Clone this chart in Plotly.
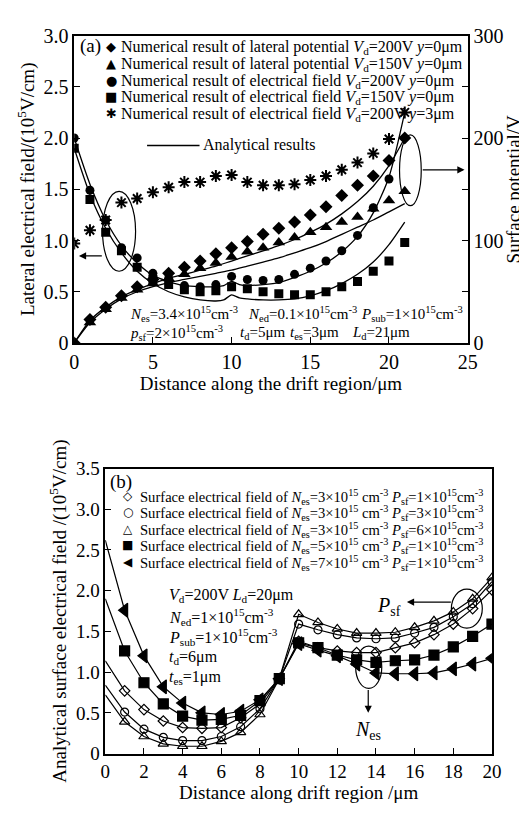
import plotly.graph_objects as go

# ---------------- Panel (a) data ----------------
xa = list(range(22))
pot200 = [0, 23, 35, 46, 55, 62, 68, 74, 80, 87, 93, 99, 106, 112, 118, 125, 133, 144, 154, 163, 178, 200]
pot150 = [0, 20, 33, 44, 52, 58, 63, 67, 73, 78, 84, 89, 93, 98, 103, 108, 113, 118, 123, 131, 139, 148]
xe = list(range(21))
e200 = [2.0, 1.49, 1.2, 0.93, 0.83, 0.68, 0.63, 0.56, 0.55, 0.57, 0.65, 0.62, 0.61, 0.62, 0.67, 0.73, 0.8, 0.9, 1.05, 1.32, 1.6]
e150 = [1.9, 1.4, 1.08, 0.9, 0.74, 0.62, 0.57, 0.52, 0.5, 0.51, 0.55, 0.53, 0.5, 0.48, 0.47, 0.47, 0.5, 0.55, 0.6, 0.7, 0.8, 0.98]
e200y3 = [0.97, 1.1, 1.2, 1.37, 1.41, 1.47, 1.52, 1.57, 1.57, 1.63, 1.64, 1.57, 1.54, 1.54, 1.55, 1.59, 1.63, 1.69, 1.76, 1.85, 1.99, 2.25]

# analytical curves
xan = [0, 1, 2, 3, 4, 5, 6, 7, 8, 9, 9.5, 10, 10.5, 11, 12, 13, 14, 15, 16, 17, 18, 19, 20, 21]
e200_an = [2.0, 1.55, 1.2, 0.95, 0.78, 0.66, 0.6, 0.56, 0.55, 0.55, 0.56, 0.6, 0.57, 0.56, 0.57, 0.59, 0.64, 0.7, 0.78, 0.89, 1.04, 1.27, 1.62, 2.25]
e150_an = [1.9, 1.45, 1.12, 0.88, 0.7, 0.58, 0.5, 0.45, 0.42, 0.41, 0.42, 0.47, 0.44, 0.43, 0.42, 0.42, 0.43, 0.46, 0.51, 0.58, 0.67, 0.79, 0.96, 1.18]
pot200_an = [0, 22, 35, 45, 52, 58, 63, 67, 71, 75, 80, 85, 90, 95, 101, 108, 116, 126, 138, 153, 173, 200]
pot150_an = [0, 20, 33, 43, 50, 55, 59, 62, 65, 68, 71, 75, 79, 83, 88, 93, 99, 106, 113, 120, 128, 136]

# ---------------- Panel (b) data ----------------
xb = list(range(21))
b_nes3_psf1 = [1.14, 0.77, 0.54, 0.40, 0.32, 0.31, 0.32, 0.44, 0.61, 0.92, 1.38, 1.30, 1.26, 1.24, 1.24, 1.30, 1.36, 1.46, 1.59, 1.78, 2.01]
b_nes3_psf3 = [0.84, 0.51, 0.30, 0.20, 0.16, 0.16, 0.21, 0.33, 0.55, 0.92, 1.59, 1.52, 1.46, 1.42, 1.41, 1.42, 1.48, 1.55, 1.68, 1.84, 2.11]
b_nes3_psf6 = [0.72, 0.39, 0.21, 0.12, 0.09, 0.09, 0.15, 0.26, 0.48, 0.92, 1.71, 1.61, 1.53, 1.48, 1.48, 1.49, 1.55, 1.63, 1.74, 1.90, 2.16]
b_nes5_psf1 = [1.90, 1.26, 0.87, 0.61, 0.46, 0.41, 0.42, 0.47, 0.65, 0.92, 1.36, 1.30, 1.21, 1.15, 1.12, 1.14, 1.15, 1.21, 1.31, 1.44, 1.59]
b_nes7_psf1 = [2.62, 1.76, 1.20, 0.82, 0.62, 0.50, 0.48, 0.52, 0.66, 0.92, 1.35, 1.27, 1.20, 1.10, 0.99, 0.98, 0.98, 0.99, 1.04, 1.10, 1.17]

# legend texts
va = "<i>V</i><sub>d</sub>"
legend_a = [
    ("◆", "Numerical result of lateral potential " + va + "=200V <i>y</i>=0μm"),
    ("▲", "Numerical result of lateral potential " + va + "=150V <i>y</i>=0μm"),
    ("●", "Numerical result of electrical field " + va + "=200V <i>y</i>=0μm"),
    ("■", "Numerical result of electrical field " + va + "=150V <i>y</i>=0μm"),
    ("✱", "Numerical result of electrical field " + va + "=200V <i>y</i>=3μm"),
]
def lab(nes, psf):
    return ("Surface electrical field of <i>N</i><sub>es</sub>=%s×10<sup>15</sup> cm<sup>-3</sup> "
            "<i>P</i><sub>sf</sub>=%s×10<sup>15</sup>cm<sup>-3</sup>" % (nes, psf))
legend_b = [("◇", lab(3, 1)), ("○", lab(3, 3)), ("△", lab(3, 6)), ("■", lab(5, 1)), ("◀", lab(7, 1))]

FONT = "Liberation Serif"
fig = go.Figure()

# ---- (a) numerical markers ----
fig.add_trace(go.Scatter(x=xa, y=pot200, mode="markers", yaxis="y2", xaxis="x", name=legend_a[0][1],
                         marker=dict(symbol="diamond", size=10, color="black"), showlegend=False))
fig.add_trace(go.Scatter(x=xa, y=pot150, mode="markers", yaxis="y2", xaxis="x", name=legend_a[1][1],
                         marker=dict(symbol="triangle-up", size=11, color="black"), showlegend=False))
fig.add_trace(go.Scatter(x=xe, y=e200, mode="markers", yaxis="y", xaxis="x", name=legend_a[2][1],
                         marker=dict(symbol="circle", size=9, color="black"), showlegend=False))
fig.add_trace(go.Scatter(x=xa, y=e150, mode="markers", yaxis="y", xaxis="x", name=legend_a[3][1],
                         marker=dict(symbol="square", size=9, color="black"), showlegend=False))
fig.add_trace(go.Scatter(x=xa, y=e200y3, mode="markers", yaxis="y", xaxis="x", name=legend_a[4][1],
                         marker=dict(symbol="asterisk-open", size=10, color="black", line=dict(width=2, color="black")),
                         showlegend=False))

# ---- (a) analytical lines ----
lstyle = dict(color="black", width=1.3, shape="spline", smoothing=0.7)
for xs, ys, ax in [(xan, e200_an, "y"), (xan, e150_an, "y"), (xa, pot200_an, "y2"), (xa, pot150_an, "y2")]:
    fig.add_trace(go.Scatter(x=xs, y=ys, mode="lines", line=lstyle, xaxis="x", yaxis=ax,
                             name="Analytical results", showlegend=False))

# ---- (b) ----
bseries = [
    (b_nes3_psf1, "diamond-open", 8),
    (b_nes3_psf3, "circle-open", 8),
    (b_nes3_psf6, "triangle-up-open", 9),
    (b_nes5_psf1, "square", 10),
    (b_nes7_psf1, "triangle-left", 12),
]
for ys, sym, sz in bseries:
    fig.add_trace(go.Scatter(x=xb, y=ys, mode="lines", xaxis="x2", yaxis="y3",
                             line=dict(color="black", width=1.2), showlegend=False))
for (ys, sym, sz), (g, nm) in zip(bseries, legend_b):
    fig.add_trace(go.Scatter(x=xb[1:], y=ys[1:], mode="markers", xaxis="x2", yaxis="y3", name=nm,
                             marker=dict(symbol=sym, size=sz, color="black",
                                         line=dict(color="black", width=1.2)), showlegend=False))

axis_common = dict(showline=True, linecolor="black", linewidth=1.5, ticks="inside",
                   tickcolor="black", ticklen=6, showgrid=False, zeroline=False)

yvals_a = [0, 0.5, 1.0, 1.5, 2.0, 2.5, 3.0]
yvals_b = [0, 0.5, 1.0, 1.5, 2.0, 2.5, 3.0, 3.5]

fig.update_layout(
    width=527, height=814, margin=dict(l=0, r=0, t=0, b=0),
    plot_bgcolor="white", paper_bgcolor="white", showlegend=False,
    font=dict(family=FONT, color="black", size=15),
    xaxis=dict(domain=[63/527, 468/527], range=[0, 25], anchor="y",
               tickvals=[0, 5, 10, 15, 20, 25], mirror=True,
               tickfont=dict(size=20),
               title=dict(text="Distance along the drift region/μm", font=dict(size=19), standoff=2),
               **axis_common),
    yaxis=dict(domain=[1-333/814, 1-17/814], range=[0, 3], anchor="x",
               tickvals=yvals_a, ticktext=["0" if v == 0 else "%.1f" % v for v in yvals_a],
               tickfont=dict(size=20),
               title=dict(text="Lateral electrical field/(10<sup>5</sup>V/cm)", font=dict(size=19), standoff=4),
               **axis_common),
    yaxis2=dict(overlaying="y", side="right", range=[0, 300], anchor="x",
                tickvals=[0, 100, 200, 300], tickfont=dict(size=20),
                minor=dict(dtick=50, ticks="inside", ticklen=6, tickcolor="black"),
                title=dict(text="Surface potential/V", font=dict(size=19), standoff=4),
                **axis_common),
    xaxis2=dict(domain=[95/527, 493/527], range=[0, 20], anchor="y3",
                tickvals=list(range(0, 21, 2)), mirror=True, tickfont=dict(size=19),
                title=dict(text="Distance along drift region /μm", font=dict(size=19), standoff=4),
                **axis_common),
    yaxis3=dict(domain=[1-755/814, 1-462/814], range=[0, 3.5], anchor="x2", mirror=True,
                tickvals=yvals_b, ticktext=["0" if v == 0 else "%.1f" % v for v in yvals_b],
                tickfont=dict(size=19),
                title=dict(text="Analytical surface electrical field /(10<sup>5</sup>V/cm)", font=dict(size=19), standoff=4),
                **axis_common),
)

shapes = [
    dict(type="circle", xref="x", yref="y", x0=1.8, x1=3.9, y0=0.70, y1=1.48, line=dict(color="black", width=1.2)),
    dict(type="circle", xref="x", yref="y", x0=20.67, x1=22.05, y0=1.34, y1=2.03, line=dict(color="black", width=1.2)),
    dict(type="circle", xref="x2", yref="y3", x0=17.9, x1=19.5, y0=1.54, y1=2.02, line=dict(color="black", width=1.2)),
    dict(type="circle", xref="x2", yref="y3", x0=12.95, x1=14.3, y0=0.8, y1=1.32, line=dict(color="black", width=1.2)),
    # "Analytical results" legend key line
    dict(type="line", xref="paper", yref="paper", x0=138/527, x1=192/527, y0=1-130/814, y1=1-130/814,
         line=dict(color="black", width=1.5)),
]
fig.update_layout(shapes=shapes)

anns = []
def arrow(xr, yr, x, y, ax, ay):
    anns.append(dict(xref=xr, yref=yr, axref=xr, ayref=yr, x=x, y=y, ax=ax, ay=ay, text="",
                     showarrow=True, arrowhead=2, arrowsize=1.2, arrowwidth=1.2, arrowcolor="black"))
arrow("x", "y", 0.3, 0.85, 1.85, 0.85)
arrow("x", "y", 24.8, 1.69, 22.05, 1.69)
arrow("x2", "y3", 15.6, 1.86, 17.95, 1.86)
arrow("x2", "y3", 13.6, 0.5, 13.6, 0.8)

def txt(xr, yr, x, y, t, size=15, xanchor="left", family=FONT):
    anns.append(dict(xref=xr, yref=yr, x=x, y=y, text=t, showarrow=False, xanchor=xanchor,
                     yanchor="middle", font=dict(size=size, family=family, color="black")))

# legend (a) rows
rows_a = [28, 46, 63, 80, 97]
for (g, t), py in zip(legend_a, rows_a):
    txt("paper", "paper", 101/527, 1-py/814, g, 13, "center", "DejaVu Sans")
    txt("paper", "paper", 109/527, 1-(py+1)/814, t, 16)
txt("paper", "paper", 194/527, 1-130/814, "Analytical results", 16)

# legend (b) rows
rows_b = [490, 507, 524, 541, 558]
for (g, t), py in zip(legend_b, rows_b):
    txt("paper", "paper", 118/527, 1-py/814, g, 12, "center", "DejaVu Sans")
    txt("paper", "paper", 129/527, 1-(py+1)/814, t, 14.6)

txt("x", "y", 0.25, 2.9, "(a)", 19)
txt("x", "y", 3.4, 0.28, "<i>N</i><sub>es</sub>=3.4×10<sup>15</sup>cm<sup>-3</sup>")
txt("x", "y", 10.9, 0.28, "<i>N</i><sub>ed</sub>=0.1×10<sup>15</sup>cm<sup>-3</sup>")
txt("x", "y", 18.1, 0.28, "<i>P</i><sub>sub</sub>=1×10<sup>15</sup>cm<sup>-3</sup>")
txt("x", "y", 3.4, 0.10, "<i>p</i><sub>sf</sub>=2×10<sup>15</sup>cm<sup>-3</sup>")
txt("x", "y", 10.4, 0.10, "<i>t</i><sub>d</sub>=5μm")
txt("x", "y", 13.6, 0.10, "<i>t</i><sub>es</sub>=3μm")
txt("x", "y", 17.5, 0.10, "<i>L</i><sub>d</sub>=21μm")

txt("x2", "y3", 0.12, 3.33, "(b)", 19)
txt("x2", "y3", 3.2, 1.94, "<i>V</i><sub>d</sub>=200V <i>L</i><sub>d</sub>=20μm", 16)
txt("x2", "y3", 3.2, 1.68, "<i>N</i><sub>ed</sub>=1×10<sup>15</sup>cm<sup>-3</sup>", 16)
txt("x2", "y3", 3.2, 1.43, "<i>P</i><sub>sub</sub>=1×10<sup>15</sup>cm<sup>-3</sup>", 16)
txt("x2", "y3", 3.2, 1.18, "<i>t</i><sub>d</sub>=6μm", 16)
txt("x2", "y3", 3.2, 0.93, "<i>t</i><sub>es</sub>=1μm", 16)
txt("x2", "y3", 15.4, 1.8, "<i>P</i><sub>sf</sub>", 20, "right")
txt("x2", "y3", 13.6, 0.28, "<i>N</i><sub>es</sub>", 20, "center")
fig.update_layout(annotations=anns)

fig.write_html("out.html")
